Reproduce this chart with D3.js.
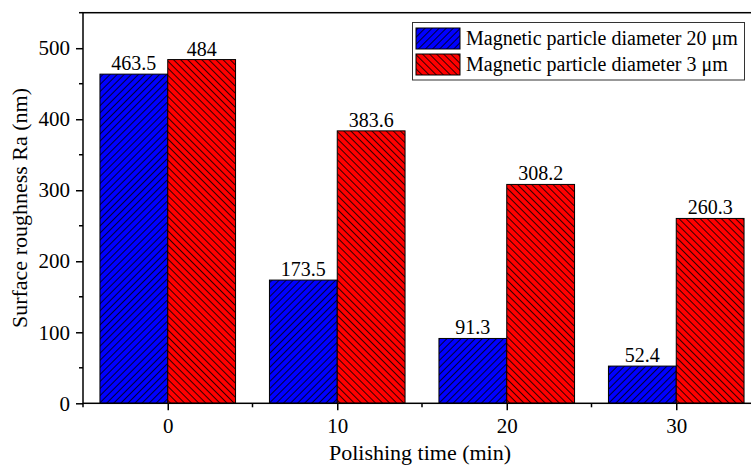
<!DOCTYPE html>
<html>
<head>
<meta charset="utf-8">
<script src="https://cdn.jsdelivr.net/npm/d3@7"></script>
<style>
  html, body { margin: 0; padding: 0; background: #fff; }
  svg { display: block; }
  text { font-family: "Liberation Serif", "Times New Roman", "DejaVu Serif", serif; fill: #000; }
</style>
</head>
<body>
<svg id="chart" width="751" height="469"></svg>
<script>
// Polishing time (min) on the x axis
const times = [0, 10, 20, 30];
// Surface roughness Ra (nm) for each particle size
const ra20um = [463.5, 173.5, 91.3, 52.4];
const ra3um = [484, 383.6, 308.2, 260.3];
const seriesNames = ["Magnetic particle diameter 20 \u03bcm", "Magnetic particle diameter 3 \u03bcm"];
const seriesColors = ["#0000ff", "#ff0000"];
const yTicks = [0, 100, 200, 300, 400, 500];
const yMinor = [50, 150, 250, 350, 450, 550];
const xMinor = [-5, 5, 15, 25, 35];

const svg = d3.select("#chart");
const margin = { left: 83, top: 12.7, bottom: 403.3 };
const barWidth = 4; // in data units

const x = d3.scaleLinear().domain([-5, 35]).range([margin.left, margin.left + 40 * 16.95]);
const y = d3.scaleLinear().domain([0, 550]).range([margin.bottom, margin.top]);

// Hatch patterns: "///" for blue, "\\\" for red
const defs = svg.append("defs");
function hatch(id, color, dir) {
  const s = 5;
  const p = defs.append("pattern")
    .attr("id", id)
    .attr("patternUnits", "userSpaceOnUse")
    .attr("patternTransform", `rotate(${dir > 0 ? 45 : -45})`)
    .attr("width", s).attr("height", s);
  p.append("rect").attr("width", s).attr("height", s).attr("fill", color);
  p.append("line")
    .attr("x1", 0.5).attr("x2", 0.5).attr("y1", 0).attr("y2", s)
    .attr("stroke", "#000").attr("stroke-width", 0.8);
}
hatch("hatchBlue", seriesColors[0], 1);
hatch("hatchRed", seriesColors[1], -1);
const fills = ["url(#hatchBlue)", "url(#hatchRed)"];

// Bars and value labels
const series = [ra20um, ra3um];
series.forEach((vals, s) => {
  const rows = times.map((t, i) => ({ t, v: vals[i] }));
  svg.append("g").selectAll("rect")
    .data(rows)
    .join("rect")
    .attr("x", d => x(s === 0 ? d.t - barWidth : d.t))
    .attr("width", x(barWidth) - x(0))
    .attr("y", d => y(d.v))
    .attr("height", d => y(0) - y(d.v))
    .attr("fill", fills[s])
    .attr("stroke", "#000")
    .attr("stroke-width", 1);

  svg.append("g").selectAll("text")
    .data(rows)
    .join("text")
    .attr("x", d => x(s === 0 ? d.t - barWidth / 2 : d.t + barWidth / 2))
    .attr("y", d => y(d.v) - 4)
    .attr("text-anchor", "middle")
    .attr("font-size", 20)
    .text(d => d.v);
});

// Axes
const yAxis = d3.axisLeft(y).tickValues(yTicks).tickSize(7).tickPadding(6).tickFormat(d3.format("d"));
const yG = svg.append("g").attr("transform", `translate(${margin.left},0)`).call(yAxis);
const xAxis = d3.axisBottom(x).tickValues(times).tickSize(7).tickPadding(8).tickFormat(d3.format("d"));
const xG = svg.append("g").attr("transform", `translate(0,${margin.bottom})`).call(xAxis);
[yG, xG].forEach(g => {
  g.attr("font-family", null);
  g.select(".domain").remove();
  g.selectAll("line").attr("stroke", "#000").attr("stroke-width", 1.5);
  g.selectAll("text").attr("font-size", 21);
});

// Minor ticks
svg.append("g").selectAll("line")
  .data(yMinor)
  .join("line")
  .attr("x1", margin.left - 4).attr("x2", margin.left)
  .attr("y1", d => y(d)).attr("y2", d => y(d))
  .attr("stroke", "#000").attr("stroke-width", 1.5);
svg.append("g").selectAll("line")
  .data(xMinor)
  .join("line")
  .attr("x1", d => x(d)).attr("x2", d => x(d))
  .attr("y1", margin.bottom).attr("y2", margin.bottom + 4)
  .attr("stroke", "#000").attr("stroke-width", 1.5);

// Frame
svg.append("rect")
  .attr("x", margin.left).attr("y", margin.top)
  .attr("width", x(35) - margin.left).attr("height", margin.bottom - margin.top)
  .attr("fill", "none").attr("stroke", "#000").attr("stroke-width", 1.5);

// Axis titles
svg.append("text")
  .attr("x", 420).attr("y", 460)
  .attr("text-anchor", "middle").attr("font-size", 22)
  .text("Polishing time (min)");
svg.append("text")
  .attr("transform", `translate(27,${(margin.top + margin.bottom) / 2}) rotate(-90)`)
  .attr("text-anchor", "middle").attr("font-size", 22)
  .text("Surface roughness Ra (nm)");

// Legend
const lg = svg.append("g");
lg.append("rect").attr("x", 412.5).attr("y", 22.5).attr("width", 332).attr("height", 57.5)
  .attr("fill", "#fff").attr("stroke", "#333").attr("stroke-width", 1);
seriesNames.forEach((name, i) => {
  const yy = 28 + i * 26;
  lg.append("rect").attr("x", 416).attr("y", yy).attr("width", 44).attr("height", 21)
    .attr("fill", fills[i]).attr("stroke", "#000").attr("stroke-width", 1);
  lg.append("text").attr("x", 466).attr("y", yy + 17).attr("font-size", 20).text(name);
});
</script>
</body>
</html>
